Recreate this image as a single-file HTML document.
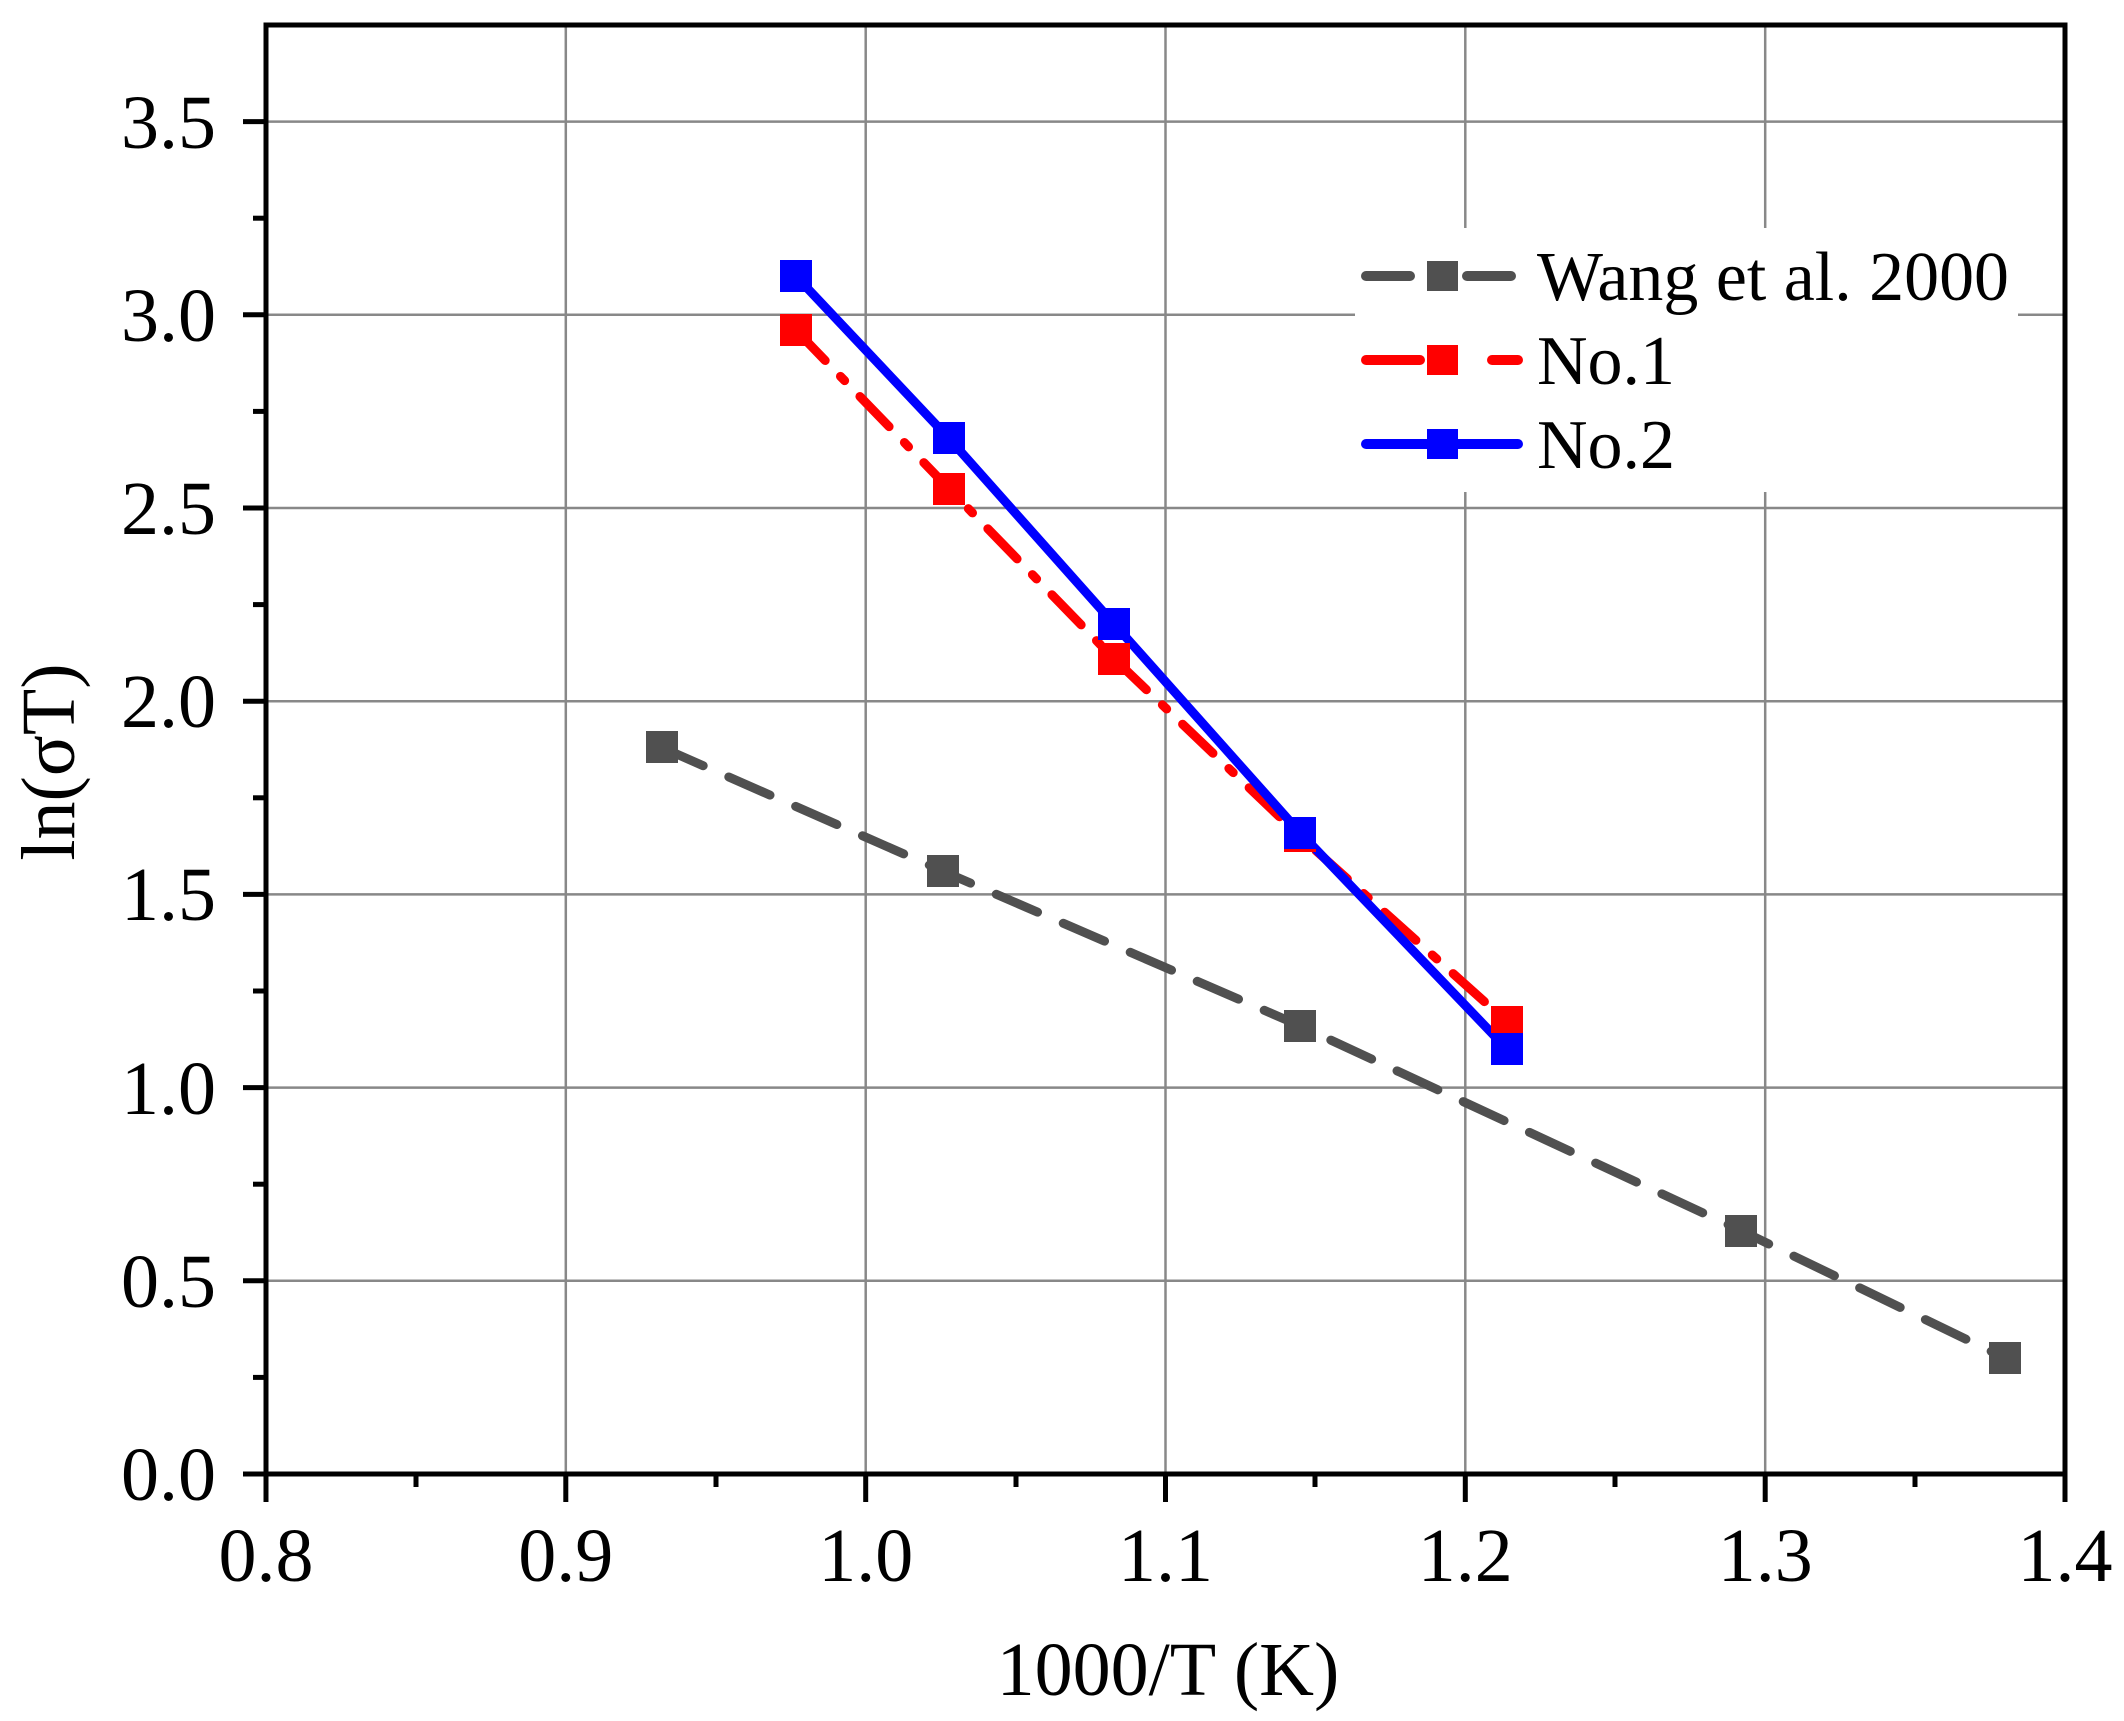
<!DOCTYPE html>
<html><head><meta charset="utf-8"><style>body{margin:0;background:#fff}svg{display:block}</style></head><body>
<svg width="2124" height="1721" viewBox="0 0 2124 1721" xmlns="http://www.w3.org/2000/svg" font-family="Liberation Serif, serif">
<rect width="2124" height="1721" fill="#fff"/>
<g stroke="#888" stroke-width="2.5">
<line x1="565.8" y1="25" x2="565.8" y2="1474"/><line x1="865.7" y1="25" x2="865.7" y2="1474"/><line x1="1165.5" y1="25" x2="1165.5" y2="1474"/><line x1="1465.3" y1="25" x2="1465.3" y2="1474"/><line x1="1765.2" y1="25" x2="1765.2" y2="1474"/>
<line x1="266" y1="1280.8" x2="2065" y2="1280.8"/><line x1="266" y1="1087.6" x2="2065" y2="1087.6"/><line x1="266" y1="894.4" x2="2065" y2="894.4"/><line x1="266" y1="701.2" x2="2065" y2="701.2"/><line x1="266" y1="508" x2="2065" y2="508"/><line x1="266" y1="314.8" x2="2065" y2="314.8"/><line x1="266" y1="121.6" x2="2065" y2="121.6"/>
</g>
<rect x="1355" y="228" width="663" height="264" fill="#fff"/>
<polyline points="662,747.6 943,871.2 1300,1025.8 1741,1230.6 2005,1358" fill="none" stroke="#505050" stroke-width="9" stroke-dasharray="45,28" stroke-linecap="round"/>
<polyline points="796,330.3 949,488.7 1114,658.7 1300,836.4 1507,1021.9" fill="none" stroke="#ff0000" stroke-width="9" stroke-dasharray="42,22,6,22" stroke-linecap="round"/>
<polyline points="796,276.2 949,438.4 1114,623.9 1300,832.6 1507,1049" fill="none" stroke="#0000ff" stroke-width="9"/>
<g fill="#505050"><rect x="646" y="731" width="32" height="32"/><rect x="927" y="855" width="32" height="32"/><rect x="1284" y="1010" width="32" height="32"/><rect x="1725" y="1215" width="32" height="32"/><rect x="1989" y="1342" width="32" height="32"/></g>
<g fill="#ff0000"><rect x="780" y="314" width="32" height="32"/><rect x="933" y="473" width="32" height="32"/><rect x="1098" y="643" width="32" height="32"/><rect x="1284" y="820" width="32" height="32"/><rect x="1491" y="1006" width="32" height="32"/></g>
<g fill="#0000ff"><rect x="780" y="260" width="32" height="32"/><rect x="933" y="422" width="32" height="32"/><rect x="1098" y="608" width="32" height="32"/><rect x="1284" y="817" width="32" height="32"/><rect x="1491" y="1033" width="32" height="32"/></g>
<g stroke-width="10" stroke-linecap="round">
<line x1="1366" y1="276" x2="1410" y2="276" stroke="#505050"/><line x1="1467" y1="276" x2="1511" y2="276" stroke="#505050"/>
<line x1="1366" y1="360" x2="1420" y2="360" stroke="#ff0000"/><line x1="1492" y1="360" x2="1518" y2="360" stroke="#ff0000"/>
<line x1="1366" y1="444" x2="1518" y2="444" stroke="#0000ff"/>
</g>
<rect x="1427" y="261" width="31" height="30" fill="#505050"/>
<rect x="1427" y="345" width="31" height="30" fill="#ff0000"/>
<rect x="1427" y="429" width="31" height="30" fill="#0000ff"/>
<g font-size="70" fill="#000"><text x="1537" y="300" textLength="472" lengthAdjust="spacingAndGlyphs">Wang et al. 2000</text><text x="1537" y="384">No.1</text><text x="1537" y="468">No.2</text></g>
<rect x="266" y="25" width="1799" height="1449" fill="none" stroke="#000" stroke-width="5"/>
<g stroke="#000" stroke-width="5">
<line x1="266" y1="1474" x2="266" y2="1502"/><line x1="565.8" y1="1474" x2="565.8" y2="1502"/><line x1="865.7" y1="1474" x2="865.7" y2="1502"/><line x1="1165.5" y1="1474" x2="1165.5" y2="1502"/><line x1="1465.3" y1="1474" x2="1465.3" y2="1502"/><line x1="1765.2" y1="1474" x2="1765.2" y2="1502"/><line x1="2065" y1="1474" x2="2065" y2="1502"/>
<line x1="416" y1="1474" x2="416" y2="1487"/><line x1="716" y1="1474" x2="716" y2="1487"/><line x1="1016" y1="1474" x2="1016" y2="1487"/><line x1="1315" y1="1474" x2="1315" y2="1487"/><line x1="1615" y1="1474" x2="1615" y2="1487"/><line x1="1915" y1="1474" x2="1915" y2="1487"/>
<line x1="243" y1="1474" x2="266" y2="1474"/><line x1="243" y1="1280.8" x2="266" y2="1280.8"/><line x1="243" y1="1087.6" x2="266" y2="1087.6"/><line x1="243" y1="894.4" x2="266" y2="894.4"/><line x1="243" y1="701.2" x2="266" y2="701.2"/><line x1="243" y1="508" x2="266" y2="508"/><line x1="243" y1="314.8" x2="266" y2="314.8"/><line x1="243" y1="121.6" x2="266" y2="121.6"/>
<line x1="253" y1="1377.4" x2="266" y2="1377.4"/><line x1="253" y1="1184.2" x2="266" y2="1184.2"/><line x1="253" y1="991" x2="266" y2="991"/><line x1="253" y1="797.8" x2="266" y2="797.8"/><line x1="253" y1="604.6" x2="266" y2="604.6"/><line x1="253" y1="411.4" x2="266" y2="411.4"/><line x1="253" y1="218.2" x2="266" y2="218.2"/>
</g>
<g font-size="76" fill="#000" text-anchor="middle">
<text x="266" y="1581">0.8</text><text x="565.8" y="1581">0.9</text><text x="865.7" y="1581">1.0</text><text x="1165.5" y="1581">1.1</text><text x="1465.3" y="1581">1.2</text><text x="1765.2" y="1581">1.3</text><text x="2065" y="1581">1.4</text>
</g>
<g font-size="76" fill="#000" text-anchor="end">
<text x="216" y="1500">0.0</text><text x="216" y="1307">0.5</text><text x="216" y="1114">1.0</text><text x="216" y="920">1.5</text><text x="216" y="727">2.0</text><text x="216" y="534">2.5</text><text x="216" y="341">3.0</text><text x="216" y="148">3.5</text>
</g>
<text x="1168" y="1695" font-size="76" text-anchor="middle">1000/T (K)</text>
<text transform="translate(74,762) rotate(-90)" font-size="76" text-anchor="middle">ln(σT)</text>
</svg>
</body></html>
